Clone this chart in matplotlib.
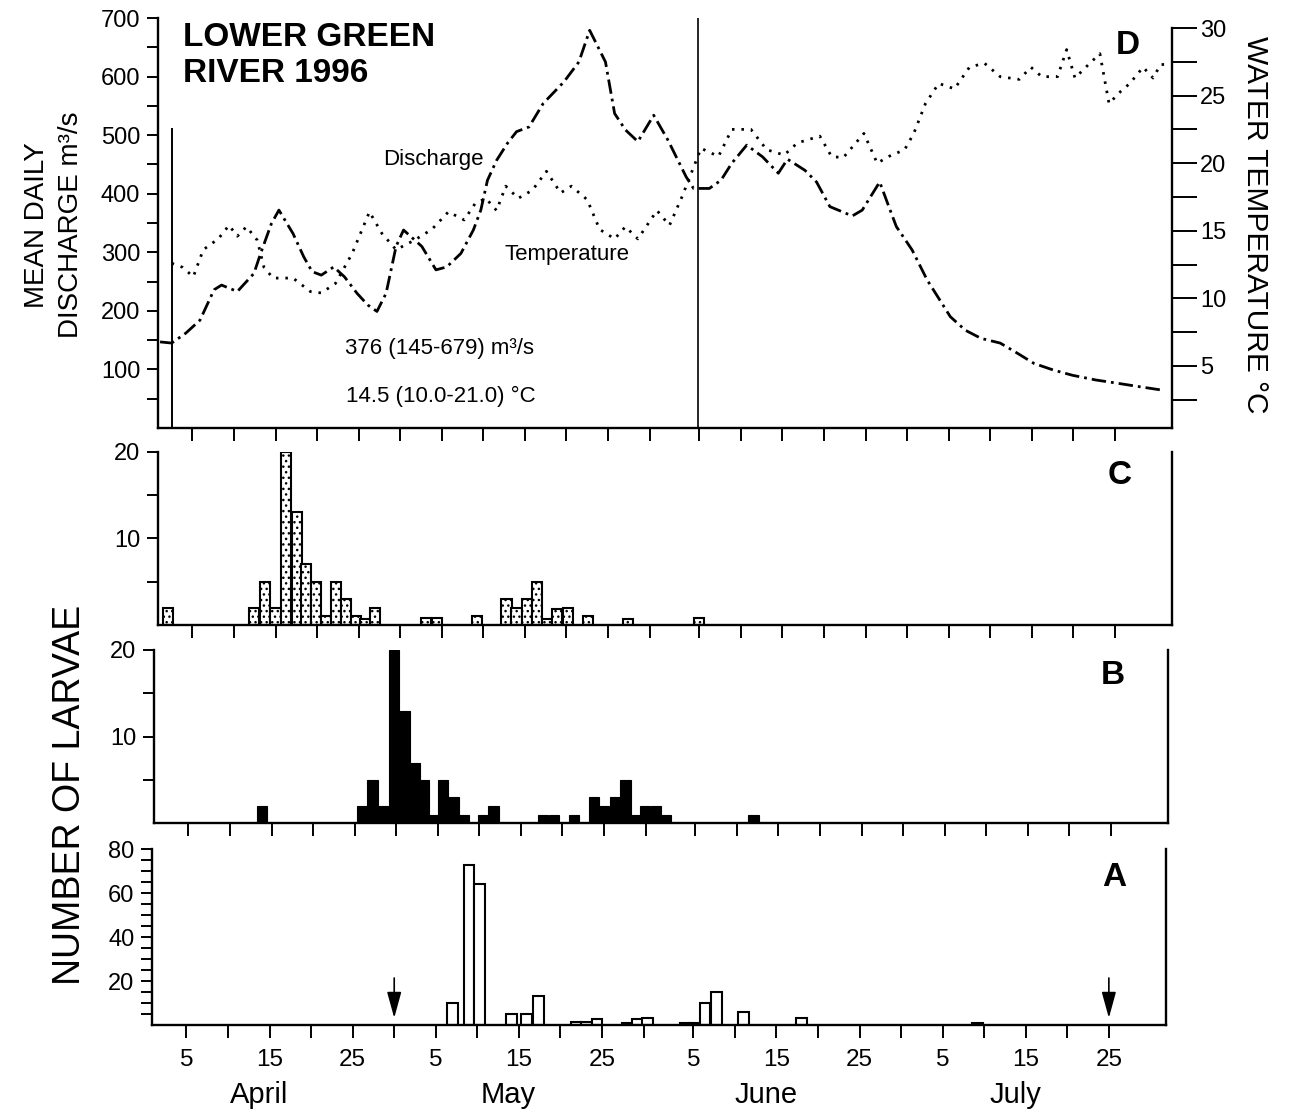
import numpy as np
import matplotlib
matplotlib.use('Agg')
import matplotlib.pyplot as plt
from matplotlib.transforms import blended_transform_factory
from matplotlib.patches import ArrowStyle

plt.rcParams['font.family'] = ['Liberation Sans', 'DejaVu Sans']
plt.rcParams['hatch.linewidth'] = 1.0

# --------------------------------------------------------------------------------------------------------------------
# Data (day 1 = 1 April 1996)
# --------------------------------------------------------------------------------------------------------------------

# Panel D: mean daily discharge (m3/s)
q_days = [1.1, 2.5, 4.2, 5.9, 7.6, 8.5, 10.4, 12.4, 13.2, 14.5, 15.4, 17.1, 18.4, 19.4, 20.5, 22.0, 23.3,
          24.8, 26.1, 27.2, 28.3, 29.5, 30.4, 32.6, 34.3, 35.6, 37.3, 38.8, 39.7, 40.5, 41.6, 42.9, 44.0,
          45.5, 47.2, 49.7, 51.5, 52.8, 54.7, 55.8, 57.1, 58.6, 60.5, 62.2, 64.4, 65.3, 67.2, 68.6, 69.9,
          71.7, 73.6, 75.5, 76.6, 78.7, 80.1, 81.7, 84.4, 85.6, 87.7, 88.8, 89.7, 91.6, 93.4, 96.2, 98.0,
          99.9, 102.2, 104.0, 106.3, 108.6, 110.9, 113.7, 116.5, 119.2, 122.0]
q_vals = [147, 145, 162, 184, 236, 244, 233, 264, 298, 349, 372, 332, 292, 267, 261, 275, 258,
          230, 210, 199, 230, 310, 338, 310, 270, 275, 298, 338, 372, 423, 457, 486, 506,
          514, 554, 591, 625, 679, 625, 537, 509, 489, 534, 492, 429, 409, 409, 423, 452,
          483, 463, 435, 459, 440, 420, 378, 362, 372, 420, 378, 344, 304, 253, 190, 167,
          153, 145, 130, 110, 99, 90, 82, 76, 70, 64]

# Panel D: water temperature (C)
t_days = [2.5, 3.8, 5.1, 6.3, 8.1, 9.4, 10.4, 11.5, 12.8, 13.6, 14.7, 17.1, 19.2, 20.5, 22.2, 24.2,
          26.3, 27.8, 29.5, 31.7, 33.8, 35.8, 37.7, 39.0, 40.3, 41.6, 42.7, 44.2, 45.9, 47.6, 49.3,
          50.6, 52.5, 54.0, 55.8, 57.1, 58.6, 60.9, 62.4, 63.9, 66.2, 68.3, 69.9, 72.2, 74.1, 76.2,
          77.8, 80.5, 81.9, 83.3, 85.8, 87.4, 88.8, 90.7, 91.8, 93.2, 94.8, 96.7, 98.5, 100.3, 102.2,
          104.5, 105.9, 107.2, 109.1, 110.2, 111.2, 113.0, 114.2, 115.3, 116.5, 117.8, 119.4, 120.6,
          121.5, 122.9]
t_vals = [12.6, 12.3, 11.6, 13.6, 14.4, 15.4, 14.6, 15.3, 14.3, 12.3, 11.5, 11.5, 10.5, 10.4, 11.1, 13.3,
          16.4, 14.8, 13.6, 14.3, 15.1, 16.4, 15.8, 17.0, 17.4, 16.5, 18.3, 17.4, 18.0, 19.4, 17.8,
          18.3, 17.3, 15.1, 14.4, 15.3, 14.4, 16.5, 15.4, 17.5, 21.1, 20.5, 22.5, 22.5, 21.0, 20.6,
          21.5, 22.0, 20.5, 20.4, 22.2, 20.0, 20.5, 21.0, 22.2, 24.4, 25.9, 25.5, 27.1, 27.4, 26.4,
          26.2, 27.1, 26.4, 26.4, 28.4, 26.3, 27.4, 28.1, 24.4, 25.2, 25.9, 27.1, 26.3,
          27.3, 27.3]

# first / last sampling day
sample_days = [2.5, 65.8]

# Panel C
c_days = [2.05, 12.4, 13.7, 15.0, 16.3, 17.55, 18.7, 19.9, 21.05, 22.25, 23.5, 24.7, 25.8, 27.0,
          33.1, 34.4, 39.2, 42.8, 44.0, 45.3, 46.5, 47.7, 48.9, 50.2, 52.6, 57.4, 66.0]
c_vals = [2, 2, 5, 2, 20, 13, 7, 5, 1, 5, 3, 1, 0.7, 2,
          0.8, 0.8, 1, 3, 2, 3, 5, 0.7, 1.8, 2, 1, 0.7, 0.8]

# Panel B
b_days = [13.85, 25.9, 27.15, 28.45, 29.75, 31.0, 32.2, 33.35, 34.4, 35.6, 36.9, 38.1, 40.4, 41.7,
          47.7, 49.0, 51.4, 53.8, 55.05, 56.3, 57.6, 58.8, 59.9, 61.3, 62.5, 73.0]
b_vals = [2, 2, 5, 2, 20, 13, 7, 5, 1, 5, 3, 1, 1, 2,
          1, 1, 1, 3, 2, 3, 5, 1, 2, 2, 1, 1]

# Panel A
a_days = [37.0, 39.0, 40.3, 44.1, 45.9, 47.4, 51.9, 53.1, 54.4, 58.05, 59.3, 60.5, 65.0, 66.1,
          67.4, 68.75, 72.0, 79.0, 100.2]
a_vals = [10, 73, 64, 5, 5, 13, 1.2, 1.2, 2.6, 1, 2.6, 3.2, 1, 1,
          10, 15, 6, 3, 1]
arrow_days = [30, 116]

# x axis: ticks on 5,10,...,30 of each month, labels 5, 15, 25
month_names = ['April', 'May', 'June', 'July']
month_start = [1, 31, 62, 92]
tick_days = []
tick_labels = []
for s, name in zip(month_start, month_names):
    for d in [5, 10, 15, 20, 25, 30]:
        if name == 'July' and d == 30:
            continue
        tick_days.append(s + d - 1)
        tick_labels.append(str(d) if d in (5, 15, 25) else '')

# --------------------------------------------------------------------------------------------------------------------
# Figure
# --------------------------------------------------------------------------------------------------------------------
W, H = 1294, 1117
fig = plt.figure(figsize=(W / 100, H / 100), dpi=100)


def px_axes(left, top, right, bottom):
    return fig.add_axes([left / W, (H - bottom) / H, (right - left) / W, (bottom - top) / H])


xlim = (0.9, 122.9)
ax_d = px_axes(158.4, 18, 1172.2, 428)
ax_c = px_axes(158.4, 451.7, 1172.2, 625)
ax_b = px_axes(154.4, 650, 1168.2, 823.3)
ax_a = px_axes(152.4, 849.3, 1166.2, 1025)

lw_sp = 1.7
for ax in [ax_d, ax_c, ax_b, ax_a]:
    ax.set_xlim(*xlim)
    ax.spines['top'].set_visible(False)
    for s in ['left', 'right', 'bottom']:
        ax.spines[s].set_linewidth(lw_sp)
    ax.set_xticks(tick_days)
    ax.set_xticklabels([])
    ax.tick_params(axis='x', direction='out', length=9, width=1.4)
    ax.tick_params(axis='y', direction='out', length=8, width=1.4, labelsize=17, pad=5)

# ---- Panel D
ax_d.plot(q_days, q_vals, color='k', lw=2.0, linestyle=(0, (5.2, 1.8, 1, 1.8)))
ax_d.set_ylim(0, 700)
ax_d.set_yticks(np.arange(50, 701, 50))
ax_d.set_yticklabels([str(v) if v % 100 == 0 else '' for v in range(50, 701, 50)])
ax_d.spines['right'].set_visible(False)
ax_d.vlines(sample_days[0], 0, 512, color='k', lw=1.4)
ax_d.vlines(sample_days[1], 0, 700, color='k', lw=1.2)

ax_t = ax_d.twinx()
ax_t.set_xlim(*xlim)
ax_t.plot(t_days, t_vals, color='k', lw=2.0, linestyle=(0, (0.9, 2.5)))
ax_t.set_ylim(0.41, 30.74)
ax_t.spines['top'].set_visible(False)
ax_t.spines['left'].set_visible(False)
ax_t.spines['bottom'].set_visible(False)
ax_t.spines['right'].set_linewidth(lw_sp)
ax_t.spines['right'].set_bounds(0.41, 30)
t_ticks = np.arange(2.5, 30.01, 2.5)
ax_t.set_yticks(t_ticks)
ax_t.set_yticklabels(['%d' % v if v % 5 == 0 else '' for v in t_ticks])
ax_t.tick_params(axis='y', direction='out', length=18, width=1.4, labelsize=17, pad=2)

ax_d.text(0.024, 0.99, 'LOWER GREEN\nRIVER 1996', transform=ax_d.transAxes, ha='left', va='top',
          fontsize=24, fontweight='bold', linespacing=1.2)
ax_d.text(0.956, 0.934, 'D', transform=ax_d.transAxes, ha='center', va='center',
          fontsize=24, fontweight='bold')
ax_d.text(0.271, 0.654, 'Discharge', transform=ax_d.transAxes, ha='center', va='center', fontsize=16)
ax_d.text(0.403, 0.422, 'Temperature', transform=ax_d.transAxes, ha='center', va='center', fontsize=16)
ax_d.text(0.184, 0.195, '376 (145-679) m\u00b3/s', transform=ax_d.transAxes, ha='left', va='center',
          fontsize=16)
ax_d.text(0.185, 0.076, '14.5 (10.0-21.0) \u00b0C', transform=ax_d.transAxes, ha='left', va='center',
          fontsize=16)

# ---- Panel C
ax_c.bar(c_days, c_vals, width=1.23, facecolor='white', edgecolor='k', linewidth=1.5, hatch='...')
ax_c.set_ylim(0, 20)
ax_c.set_yticks([5, 10, 15, 20])
ax_c.set_yticklabels(['', '10', '', '20'])
ax_c.text(0.9485, 0.86, 'C', transform=ax_c.transAxes, ha='center', va='center',
          fontsize=24, fontweight='bold')

# ---- Panel B
ax_b.bar(b_days, b_vals, width=1.23, facecolor='k', edgecolor='k', linewidth=0.8)
ax_b.set_ylim(0, 20)
ax_b.set_yticks([5, 10, 15, 20])
ax_b.set_yticklabels(['', '10', '', '20'])
ax_b.text(0.9455, 0.85, 'B', transform=ax_b.transAxes, ha='center', va='center',
          fontsize=24, fontweight='bold')

# ---- Panel A
ax_a.bar(a_days, a_vals, width=1.3, facecolor='white', edgecolor='k', linewidth=1.5)
ax_a.set_ylim(0, 80)
ax_a.set_yticks(np.arange(5, 81, 5))
ax_a.set_yticklabels([str(v) if v % 20 == 0 else '' for v in range(5, 81, 5)])
ax_a.set_xticklabels(tick_labels)
ax_a.tick_params(axis='x', labelsize=17.5, pad=8)
ax_a.text(0.9485, 0.842, 'A', transform=ax_a.transAxes, ha='center', va='center',
          fontsize=24, fontweight='bold')
for d in arrow_days:
    ax_a.annotate('', xy=(d, 3.2), xytext=(d, 21.4),
                  arrowprops=dict(arrowstyle=ArrowStyle('-|>', head_length=0.8, head_width=0.22),
                                  color='k', lw=1.2, mutation_scale=20, shrinkA=0, shrinkB=0))

trans = blended_transform_factory(ax_a.transData, ax_a.transAxes)
for s, name in zip(month_start, month_names):
    ax_a.text(s + 12.7, -0.40, name, transform=trans, ha='center', va='center', fontsize=21)

# ---- axis titles
fig.text(54 / W, 1 - 225 / H, 'MEAN DAILY\nDISCHARGE m\u00b3/s', rotation=90, ha='center', va='center',
         fontsize=20, linespacing=1.35, multialignment='center')
fig.text(1255 / W, 1 - 225 / H, 'WATER TEMPERATURE \u00b0C', rotation=-90, ha='center', va='center',
         fontsize=21.5)
fig.text(70 / W, 1 - 795 / H, 'NUMBER OF LARVAE', rotation=90, ha='center', va='center', fontsize=27)

fig.savefig('out.png', dpi=100)
